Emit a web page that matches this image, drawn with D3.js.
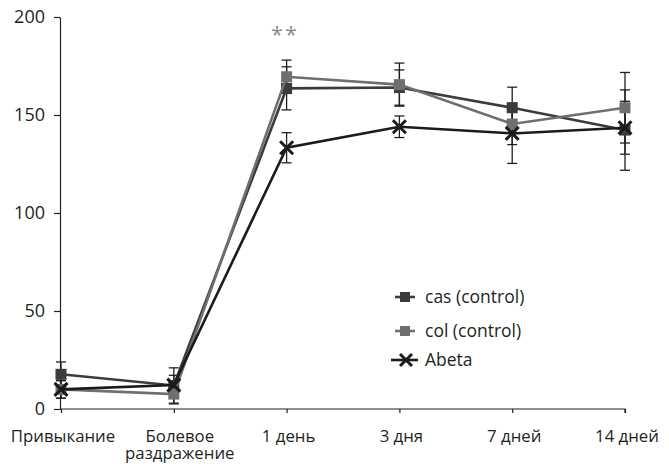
<!DOCTYPE html>
<html>
<head>
<meta charset="utf-8">
<script src="https://cdn.jsdelivr.net/npm/d3@7"></script>
<style>
  body { margin: 0; background: #fff; }
  svg { display: block; }
  text { font-family: "Open Sans", "Noto Sans", sans-serif; fill: #231f20; }
</style>
</head>
<body>
<svg id="chart" width="669" height="464"></svg>
<script>
// Time points of the experiment
const categories = ["Привыкание", "Болевое\nраздражение", "1 день", "3 дня", "7 дней", "14 дней"];

// Group means
const casValues   = [17.7, 12, 163.6, 164, 153.7, 142.3];
const colValues   = [10, 7.6, 169.5, 165.5, 145.4, 153.7];
const abetaValues = [10, 12.2, 133.3, 144, 140.6, 143.5];

// Error-bar half-widths
const casErrors   = [6.3, 9, 11, 9, 10.5, 20.5];
const colErrors   = [4.5, 5, 8.5, 11, 10.5, 18];
const abetaErrors = [4.5, 5, 7.7, 5.5, 15.3, 13.5];

const yTicks = [0, 50, 100, 150, 200];
const seriesNames = ["cas (control)", "col (control)", "Abeta"];
const significance = ["*", "*"];

const svg = d3.select("#chart");

const x = d3.scalePoint().domain(categories).range([61, 625]);
const y = d3.scaleLinear().domain([0, 200]).range([409, 17]);

// Y axis
const yAxis = svg.append("g")
  .attr("transform", "translate(60,0)")
  .call(d3.axisLeft(y).tickValues(yTicks).tickSize(6).tickSizeOuter(0).tickPadding(9));
yAxis.select(".domain").attr("stroke", "#231f20").attr("stroke-width", 1.2);
yAxis.selectAll(".tick line").attr("stroke", "#231f20").attr("stroke-width", 1.2);
yAxis.selectAll(".tick text").attr("font-size", 18).attr("fill", "#231f20")
  .style("font-family", '"Open Sans", sans-serif');

// X axis
const xAxis = svg.append("g")
  .attr("transform", "translate(0,409)")
  .call(d3.axisBottom(x).tickSize(4).tickSizeOuter(0).tickFormat(""));
xAxis.select(".domain").attr("d", "M60,0H625V4").attr("stroke", "#231f20").attr("stroke-width", 1.2);
xAxis.selectAll(".tick line").attr("stroke", "#231f20").attr("stroke-width", 1.2);

// X labels (multi-line labels sit a little to the right)
categories.forEach(c => {
  const lines = c.split("\n");
  const cx = x(c) + (lines.length > 1 ? 6 : 2);
  const t = svg.append("text")
    .attr("x", cx).attr("y", 442)
    .attr("text-anchor", "middle")
    .attr("font-size", 16.8);
  lines.forEach((ln, i) => {
    t.append("tspan").attr("x", cx).attr("dy", i === 0 ? 0 : 17).text(ln);
  });
});

const series = [
  { name: seriesNames[0], values: casValues, errors: casErrors, color: "#3b3b3b", marker: "square" },
  { name: seriesNames[1], values: colValues, errors: colErrors, color: "#6f6f6f", marker: "square" },
  { name: seriesNames[2], values: abetaValues, errors: abetaErrors, color: "#1c1a1b", marker: "cross" }
];

// Error bars
series.forEach(s => {
  const g = svg.append("g");
  categories.forEach((c, i) => {
    const cx = x(c);
    const hi = y(s.values[i] + s.errors[i]);
    const lo = y(s.values[i] - s.errors[i]);
    g.append("line").attr("x1", cx).attr("x2", cx).attr("y1", hi).attr("y2", lo)
      .attr("stroke", "#231f20").attr("stroke-width", 1.3);
    [hi, lo].forEach(yy => g.append("line")
      .attr("x1", cx - 5).attr("x2", cx + 5).attr("y1", yy).attr("y2", yy)
      .attr("stroke", "#231f20").attr("stroke-width", 1.3));
  });
});

const line = d3.line().x((d, i) => x(categories[i])).y(d => y(d));

function drawMarker(g, type, cx, cy, color, size) {
  if (type === "square") {
    g.append("rect").attr("x", cx - size / 2).attr("y", cy - size / 2)
      .attr("width", size).attr("height", size).attr("fill", color);
  } else {
    const h = size / 2;
    g.append("path").attr("d", `M${cx - h},${cy - h}L${cx + h},${cy + h}M${cx - h},${cy + h}L${cx + h},${cy - h}`)
      .attr("stroke", color).attr("stroke-width", 3).attr("fill", "none");
  }
}

// Lines and markers
series.forEach(s => {
  const g = svg.append("g");
  g.append("path").datum(s.values).attr("d", line)
    .attr("fill", "none").attr("stroke", s.color).attr("stroke-width", 2.6);
  s.values.forEach((v, i) => drawMarker(g, s.marker, x(categories[i]), y(v), s.color, s.marker === "square" ? 11 : 13));
});

// Significance marks
significance.forEach((m, i) => {
  svg.append("text").attr("x", 277 + i * 14).attr("y", 42)
    .attr("text-anchor", "middle").attr("font-size", 21)
    .style("fill", "#8a8a8a").text(m);
});

// Legend
const legendY = [297, 331, 360];
series.forEach((s, i) => {
  const g = svg.append("g");
  const ly = legendY[i];
  const x0 = s.marker === "square" ? 395 : 391;
  const x1 = s.marker === "square" ? 415 : 418;
  g.append("line").attr("x1", x0).attr("x2", x1).attr("y1", ly).attr("y2", ly)
    .attr("stroke", s.color).attr("stroke-width", 2.6);
  drawMarker(g, s.marker, (x0 + x1) / 2 + (s.marker === "square" ? 0 : 1.5), ly, s.color, s.marker === "square" ? 10 : 12);
  g.append("text").attr("x", 425).attr("y", ly + 6).attr("font-size", 17.5).text(s.name);
});
</script>
</body>
</html>
